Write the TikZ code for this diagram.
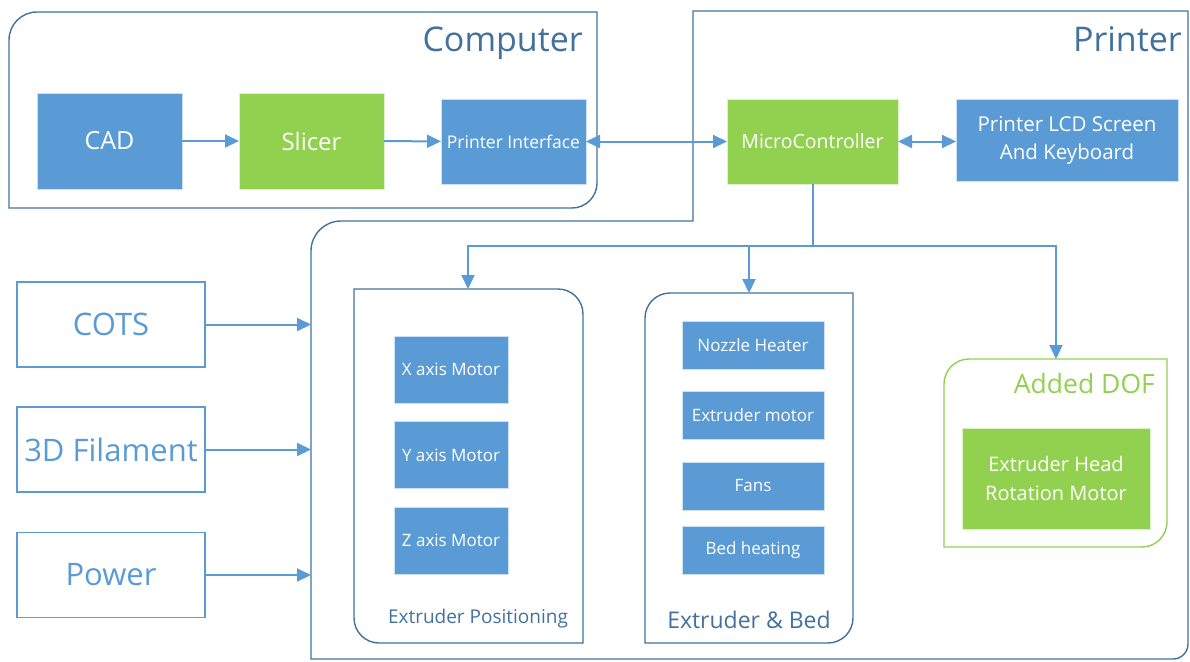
\documentclass[tikz,border=0pt]{standalone}
\usepackage{fontspec}
\setmainfont{Open Sans}
\usetikzlibrary{arrows.meta}
\definecolor{boxblue}{HTML}{5B9BD5}
\definecolor{boxgreen}{HTML}{92D050}
\definecolor{frameblue}{HTML}{41719C}
\tikzset{
  block/.style={fill=boxblue, draw=white!70!boxblue, line width=0.6pt, text=white,
    inner sep=0pt, outer sep=0pt, align=center},
  greenblock/.style={block, fill=boxgreen, draw=white!70!boxgreen},
  source/.style={draw=boxblue, line width=1.3pt, fill=white, text=boxblue, inner sep=0pt,
    outer sep=0pt, minimum width=188pt, minimum height=85pt, font=\fontsize{31}{36}\selectfont},
  frame/.style={draw=frameblue, line width=1.4pt},
  link/.style={draw=boxblue, line width=2pt, -{Triangle[length=14pt,width=13pt]}},
  twoway/.style={link, {Triangle[length=14pt,width=13pt]}-{Triangle[length=14pt,width=13pt]}},
  title/.style={text=frameblue, inner sep=0pt},
}

\begin{document}
\begin{tikzpicture}[x=1pt,y=-1pt]
    \useasboundingbox (0,0) rectangle (1190,661);
    % containers
    \draw [frame] (9,40) .. controls (9,24.5) and (21.5,12) .. (37,12) -- (597,12) -- (597,183)
        .. controls (597,196.8) and (585.8,208) .. (572,208) -- (9,208) -- cycle;
    \draw [frame] (693,11) -- (1188,11) -- (1188,644) .. controls (1188,652.3) and (1181.3,659) .. (1173,659)
        -- (311,659) -- (311,251) .. controls (311,234.4) and (324.4,221) .. (341,221) -- (693,221) -- cycle;
    \draw [frame] (354,289) -- (558,289) .. controls (571.8,289) and (583,300.2) .. (583,314) -- (583,643)
        -- (379,643) .. controls (365.2,643) and (354,631.8) .. (354,618) -- cycle;
    \draw [frame] (645,318) .. controls (645,304.2) and (656.2,293) .. (670,293) -- (853,293) -- (853,618)
        .. controls (853,631.8) and (841.8,643) .. (828,643) -- (645,643) -- cycle;
    \draw [draw=boxgreen, line width=1.4pt] (944,384) .. controls (944,370.2) and (955.2,359) .. (969,359)
        -- (1167,359) -- (1167,522) .. controls (1167,535.8) and (1155.8,547) .. (1142,547) -- (944,547) -- cycle;
    % titles
    \node [title, anchor=east, font=\fontsize{34}{40}\selectfont] (computer) at (583,43) {Computer};
    \node [title, anchor=east, font=\fontsize{34}{40}\selectfont] (printer) at (1182,39) {Printer};
    \node [title, font=\fontsize{19}{22}\selectfont] (poslabel) at (478,619) {Extruder Positioning};
    \node [title, font=\fontsize{23}{27}\selectfont] (bedlabel) at (749,620) {Extruder \& Bed};
    \node [title, text=boxgreen, anchor=east, font=\fontsize{26.5}{31}\selectfont] (doflabel) at (1155,384) {Added DOF};
    % computer side
    \node [block, minimum width=145pt, minimum height=96pt, font=\fontsize{25}{30}\selectfont] (cad) at (109.5,141) {CAD};
    \node [greenblock, minimum width=145pt, minimum height=96pt, font=\fontsize{24}{29}\selectfont] (slicer) at (311.5,141) {Slicer};
    \node [block, minimum width=145pt, minimum height=85pt, font=\fontsize{17.5}{21}\selectfont] (iface) at (513.5,141.5) {Printer Interface};
    % printer side
    \node [greenblock, minimum width=171pt, minimum height=85pt, font=\fontsize{19.5}{23}\selectfont] (mcu) at (812.5,141.5) {MicroController};
    \node [block, minimum width=222pt, minimum height=82pt, font=\fontsize{20.5}{28}\selectfont] (lcd) at (1067,140) {Printer LCD Screen\\And Keyboard};
    \node [block, minimum width=114pt, minimum height=67pt, font=\fontsize{17}{20}\selectfont] (xmotor) at (451,369.5) {X axis Motor};
    \node [block, minimum width=114pt, minimum height=67pt, font=\fontsize{17}{20}\selectfont] (ymotor) at (451,455) {Y axis Motor};
    \node [block, minimum width=114pt, minimum height=67pt, font=\fontsize{17}{20}\selectfont] (zmotor) at (451,540.5) {Z axis Motor};
    \node [block, minimum width=142pt, minimum height=48pt, font=\fontsize{17}{20}\selectfont] (nozzle) at (753,345) {Nozzle Heater};
    \node [block, minimum width=142pt, minimum height=48pt, font=\fontsize{17}{20}\selectfont] (extmotor) at (753,415) {Extruder motor};
    \node [block, minimum width=142pt, minimum height=48pt, font=\fontsize{17}{20}\selectfont] (fans) at (753,486) {Fans};
    \node [block, minimum width=142pt, minimum height=48pt, font=\fontsize{17}{20}\selectfont] (bedheat) at (753,550) {Bed heating};
    \node [greenblock, minimum width=188pt, minimum height=101pt, font=\fontsize{20}{29}\selectfont] (headmotor) at (1056,478.5) {Extruder Head\\Rotation Motor};
    % inputs
    \node [source] (cots) at (111,324.5) {COTS};
    \node [source] (filament) at (111,449.5) {3D Filament};
    \node [source] (power) at (111,575) {Power};
    \coordinate (printerleft) at (311,0);
    \coordinate (split) at (812.5,246);
    \coordinate (postop) at (468,289);
    \coordinate (bedtop) at (749,293);
    \coordinate (doftop) at (1056,359);
    % edges
    \draw [link] (cad) -- (slicer);
    \draw [link] (slicer) -- (iface);
    \draw [twoway] (iface) -- (mcu);
    \draw [twoway] (mcu) -- (lcd.west |- mcu);
    \draw [link] (mcu) -- (split) -| (postop);
    \draw [link] (split) -| (bedtop);
    \draw [link] (split) -| (doftop);
    \draw [link] (cots) -- (cots -| printerleft);
    \draw [link] (filament) -- (filament -| printerleft);
    \draw [link] (power) -- (power -| printerleft);
\end{tikzpicture}
\end{document}
